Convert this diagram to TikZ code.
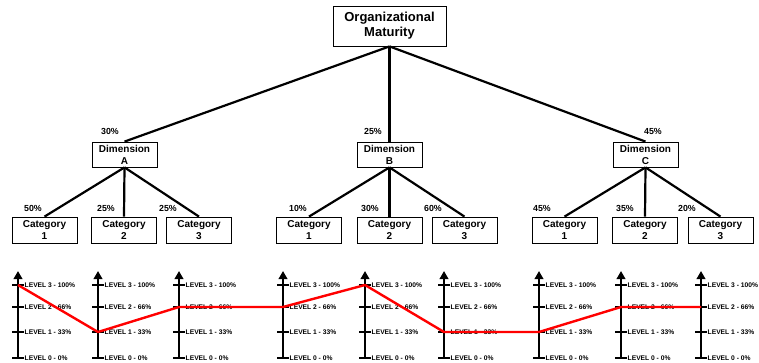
\documentclass[tikz,border=0pt]{standalone}
\usepackage{fontspec}
\setmainfont{Liberation Sans}
\usetikzlibrary{arrows.meta}

\begin{document}
\begin{tikzpicture}[x=1pt, y=-1pt,
    box/.style={draw, line width=0.8pt, align=center, inner sep=1pt,
        minimum width=65pt, font=\fontsize{10}{12}\selectfont\bfseries},
    link/.style={line width=2.2pt},
    pct/.style={font=\fontsize{8.8}{9}\selectfont\bfseries, inner sep=0pt},
    lvl/.style={anchor=west, inner sep=0pt, font=\fontsize{6.7}{7}\selectfont\bfseries},
    axis/.style={line width=2.8pt, -{Triangle[width=8.5pt, length=8pt]}},
    tick/.style={line width=2.8pt},
    score/.style={red, line width=2.4pt, line join=round}]

    \useasboundingbox (0,0) rectangle (759,363);

    % Top of the tree
    \node[box, minimum width=113pt, minimum height=40pt,
        font=\fontsize{13}{15}\selectfont\bfseries] (mat) at (389.5,26) {Organizational\\Maturity};

    % Dimensions
    \node[box, minimum height=25pt] (dimA) at (124.5,154.5) {Dimension\\A};
    \node[box, minimum height=25pt] (dimB) at (389.5,154.5) {Dimension\\B};
    \node[box, minimum height=25pt] (dimC) at (645.5,154.5) {Dimension\\C};

    % Categories
    \node[box, minimum height=26pt] (a1) at (44.5,230) {Category\\1};
    \node[box, minimum height=26pt] (a2) at (124,230) {Category\\2};
    \node[box, minimum height=26pt] (a3) at (199,230) {Category\\3};
    \node[box, minimum height=26pt] (b1) at (309,230) {Category\\1};
    \node[box, minimum height=26pt] (b2) at (389.5,230) {Category\\2};
    \node[box, minimum height=26pt] (b3) at (464.5,230) {Category\\3};
    \node[box, minimum height=26pt] (c1) at (564.5,230) {Category\\1};
    \node[box, minimum height=26pt] (c2) at (645,230) {Category\\2};
    \node[box, minimum height=26pt] (c3) at (720.5,230) {Category\\3};

    % Links
    \draw[link] (mat.south) -- (dimA.north);
    \draw[link] (mat.south) -- (dimB.north);
    \draw[link] (mat.south) -- (dimC.north);
    \draw[link] (dimA.south) -- (a1.north);
    \draw[link] (dimA.south) -- (a2.north);
    \draw[link] (dimA.south) -- (a3.north);
    \draw[link] (dimB.south) -- (b1.north);
    \draw[link] (dimB.south) -- (b2.north);
    \draw[link] (dimB.south) -- (b3.north);
    \draw[link] (dimC.south) -- (c1.north);
    \draw[link] (dimC.south) -- (c2.north);
    \draw[link] (dimC.south) -- (c3.north);

    % Weights
    \node[pct] (wA) at (110,131) {30\%};
    \node[pct] (wB) at (373,131) {25\%};
    \node[pct] (wC) at (653,131) {45\%};
    \node[pct] (wa1) at (33,208) {50\%};
    \node[pct] (wa2) at (106,208) {25\%};
    \node[pct] (wa3) at (168,208) {25\%};
    \node[pct] (wb1) at (298,208) {10\%};
    \node[pct] (wb2) at (370,208) {30\%};
    \node[pct] (wb3) at (433,208) {60\%};
    \node[pct] (wc1) at (542,208) {45\%};
    \node[pct] (wc2) at (625,208) {35\%};
    \node[pct] (wc3) at (687,208) {20\%};

    % Level scales
    \foreach \x [count=\i] in {18,98,179,283,365,444,539,621,701} {
        \coordinate (s\i-0) at (\x,358);
        \coordinate (s\i-1) at (\x,332);
        \coordinate (s\i-2) at (\x,307);
        \coordinate (s\i-3) at (\x,285);
        \coordinate (s\i-top) at (\x,271);
        \draw[axis] (s\i-0) -- (s\i-top);
        \draw[tick] ([xshift=-6pt]s\i-0) -- ([xshift=6pt]s\i-0);
        \draw[tick] ([xshift=-6pt]s\i-1) -- ([xshift=6pt]s\i-1);
        \draw[tick] ([xshift=-6pt]s\i-2) -- ([xshift=6pt]s\i-2);
        \draw[tick] ([xshift=-6pt]s\i-3) -- ([xshift=6pt]s\i-3);
        \node[lvl] (t\i-3) at ([xshift=6.5pt]s\i-3) {LEVEL 3 - 100\%};
        \node[lvl] (t\i-2) at ([xshift=6.5pt]s\i-2) {LEVEL 2 - 66\%};
        \node[lvl] (t\i-1) at ([xshift=6.5pt]s\i-1) {LEVEL 1 - 33\%};
        \node[lvl] (t\i-0) at ([xshift=6.5pt]s\i-0) {LEVEL 0 - 0\%};
    }

    % Score profile
    \draw[score] (s1-3) -- (s2-1) -- (s3-2) -- (s4-2) -- (s5-3) -- (s6-1)
        -- (s7-1) -- (s8-2) -- (s9-2);

\end{tikzpicture}
\end{document}
